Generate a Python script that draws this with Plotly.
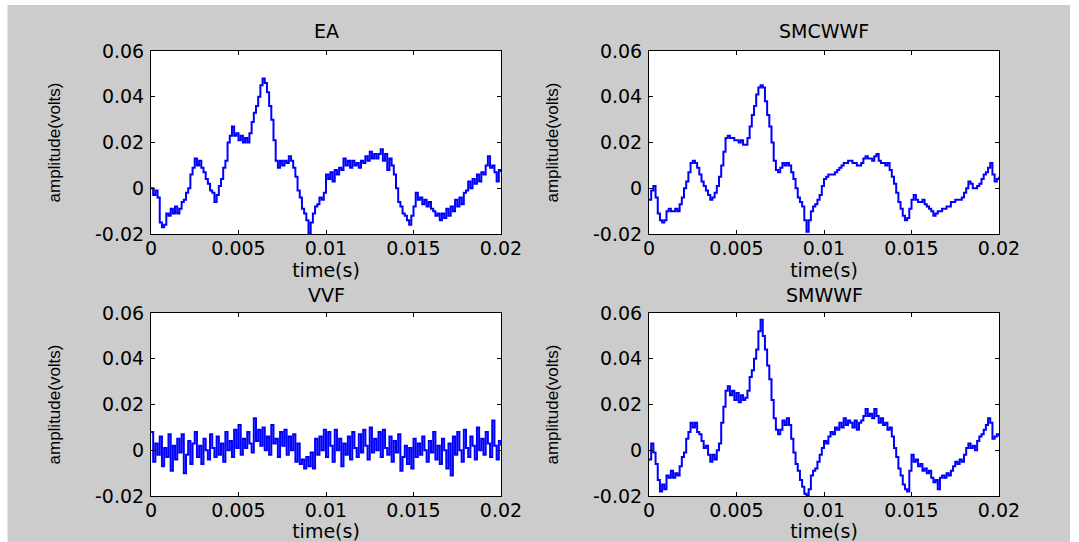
import plotly.graph_objects as go

W, H = 1079, 542

# sampling: 161 samples over 0..0.02 s
DT = 0.000125
N_SAMPLES = 161
time_s = [i * DT for i in range(N_SAMPLES)]

# amplitudes in millivolts
EA_MV = [0, -3, -1, -4, -15, -17, -16, -11, -12, -9, -11, -8, -11, -9, -6, -5, -2, 0, 6, 9,
         13, 10, 12, 9, 7, 4, 2, -1, -2, -6, -3, 1, 4, 9, 12, 20, 23, 27, 23, 24,
         21, 23, 20, 22, 20, 24, 29, 33, 36, 40, 45, 48, 46, 42, 36, 30, 21, 12, 9, 12,
         10, 12, 11, 14, 12, 9, 5, -1, -4, -9, -11, -14, -20, -15, -11, -8, -7, -4, -5, -2,
         6, 4, 7, 3, 8, 6, 9, 8, 13, 10, 12, 9, 12, 10, 11, 9, 12, 11, 14, 12,
         16, 13, 15, 13, 15, 17, 12, 15, 8, 13, 10, 6, 0, -6, -8, -11, -12, -14, -16, -12,
         -8, -2, -5, -4, -7, -5, -8, -6, -9, -10, -12, -11, -14, -11, -13, -9, -12, -8, -10, -5,
         -8, -4, -7, -2, -1, 3, 0, 4, 2, 6, 3, 7, 6, 10, 14, 9, 10, 7, 3, 8, 7]

SMCWWF_MV = [-5, -1, 1, -4, -11, -14, -15, -14, -10, -9, -10, -10, -9, -10, -7, -4, 0, 3, 7, 11,
             12, 11, 9, 6, 3, 1, -1, -3, -5, -4, -2, 1, 5, 10, 16, 22, 23, 22, 22, 21,
             21, 20, 21, 19, 19, 22, 27, 32, 36, 41, 44, 45, 44, 38, 32, 27, 20, 12, 8, 7,
             9, 11, 10, 11, 10, 7, 4, 0, -4, -6, -8, -14, -19, -14, -10, -8, -7, -5, -3, 1,
             4, 5, 6, 6, 6, 7, 8, 9, 10, 11, 11, 12, 12, 11, 11, 10, 10, 11, 13, 14,
             13, 13, 12, 14, 15, 12, 11, 11, 10, 11, 8, 5, 2, -2, -6, -9, -12, -14, -13, -9,
             -5, -3, -5, -6, -6, -5, -7, -8, -9, -10, -12, -11, -10, -10, -9, -9, -8, -8, -6, -6,
             -5, -5, -5, -4, -2, 0, 3, 2, 0, 0, 1, 2, 4, 6, 7, 9, 11, 6, 3, 4, 5]

VVF_MV = [8, -5, 3, -2, 6, -7, 1, -3, 7, -9, 2, -4, 5, -1, 7, -10, -2, 4, -6, 3,
          8, -3, 2, -6, 5, 0, -4, 7, 1, -3, 6, -2, 3, -5, 8, 0, 4, -3, 9, 1,
          11, -2, 5, 1, 8, 3, -1, 14, 4, 9, 2, 10, 0, 6, -2, 11, 3, 5, -3, 8,
          2, 9, -2, 6, 0, 7, -5, 3, -6, -4, -8, -3, -7, -1, -8, 5, -2, 6, 0, 9,
          -3, 8, 2, -5, 9, 0, 5, -7, 3, -2, 6, -4, 8, 1, -3, 7, -1, 9, 2, -4,
          10, -1, 5, 0, 8, -3, 9, 1, -2, 6, -5, 4, -1, 7, -9, -3, 2, -6, 1, -8,
          5, -3, 3, -2, 6, 0, -5, 4, -1, 8, -4, 2, -6, 5, 0, -8, 3, -11, 6, -2,
          8, 0, -5, 9, 1, -3, 6, 2, -4, 10, 0, 5, -2, 8, 3, -3, 13, 2, -4, 4, 2]

SMWWF_MV = [-4, 3, -1, -6, -13, -18, -15, -17, -11, -12, -9, -12, -10, -11, -7, -3, -1, 5, 8, 12,
            10, 12, 8, 7, 4, 1, 2, -2, -5, -2, -4, 0, 3, 12, 19, 26, 28, 24, 26, 22,
            25, 21, 24, 22, 23, 26, 32, 35, 40, 44, 52, 57, 50, 44, 37, 31, 22, 14, 9, 7,
            9, 13, 11, 14, 11, 5, -1, -6, -9, -13, -16, -19, -20, -17, -11, -9, -8, -5, -2, 1,
            4, 3, 6, 8, 7, 10, 9, 12, 10, 14, 11, 13, 12, 10, 13, 9, 12, 13, 15, 18,
            15, 16, 14, 18, 15, 12, 14, 11, 12, 9, 10, 6, 1, -3, -8, -11, -15, -17, -18, -9,
            -2, -5, -4, -7, -6, -9, -8, -10, -9, -12, -14, -13, -17, -12, -11, -12, -10, -11, -9, -7,
            -5, -6, -4, -5, -2, 1, 3, 1, 2, 0, 4, 6, 7, 9, 11, 14, 12, 5, 6, 7, 6]

TITLES = ["EA", "SMCWWF", "VVF", "SMWWF"]
SERIES = [EA_MV, SMCWWF_MV, VVF_MV, SMWWF_MV]
X_TICKS = [0, 0.005, 0.01, 0.015, 0.02]
X_TICK_LABELS = ["0", "0.005", "0.01", "0.015", "0.02"]
Y_TICKS = [-0.02, 0, 0.02, 0.04, 0.06]
Y_TICK_LABELS = ["-0.02", "0", "0.02", "0.04", "0.06"]
X_LABEL = "time(s)"
Y_LABEL = "amplitude(volts)"

# panel boxes in pixels: left, right, top, bottom
BOXES = [(151, 501, 51, 234), (649, 999, 51, 234), (151, 501, 313, 496), (649, 999, 313, 496)]
TITLE_Y = [31, 31, 294.5, 294.5]

HFONT = dict(family="DejaVu Sans", size=19, color="black")
VFONT = dict(family="Liberation Sans", size=17, color="black")

fig = go.Figure()
annotations = []
for k in range(4):
    l, r, t, b = BOXES[k]
    sx = "" if k == 0 else str(k + 1)
    fig.add_trace(go.Scatter(
        x=time_s, y=[v / 1000 for v in SERIES[k]], mode="lines",
        line=dict(color="#0000ff", width=2, shape="hv"), xaxis="x" + sx, yaxis="y" + sx,
        showlegend=False, hoverinfo="skip"))
    axcommon = dict(showline=True, linecolor="black", linewidth=1, mirror="allticks",
                    ticks="inside", ticklen=4, tickcolor="black", showgrid=False,
                    zeroline=False, tickfont=HFONT, fixedrange=True, automargin=False)
    fig.layout["xaxis" + sx] = dict(domain=[l / W, r / W], range=[0, 0.02],
                                    tickvals=X_TICKS, ticktext=X_TICK_LABELS,
                                    anchor="y" + sx, ticklabelstandoff=-3,
                                    title=dict(text=X_LABEL, font=HFONT, standoff=3),
                                    **axcommon)
    fig.layout["yaxis" + sx] = dict(domain=[1 - b / H, 1 - t / H], range=[-0.02, 0.06],
                                    tickvals=Y_TICKS, ticktext=Y_TICK_LABELS,
                                    anchor="x" + sx, ticklabelstandoff=2,
                                    title=dict(text=Y_LABEL, font=VFONT, standoff=30),
                                    **axcommon)
    cx = (l + r) / 2 / W
    annotations.append(dict(text=TITLES[k], x=cx, y=1 - TITLE_Y[k] / H, xref="paper", yref="paper",
                            showarrow=False, xanchor="center", yanchor="middle", font=HFONT))

shapes = [
    dict(type="rect", xref="paper", yref="paper", x0=0, x1=1, y0=1 - 5 / H, y1=1,
         fillcolor="white", line=dict(width=0)),
    dict(type="rect", xref="paper", yref="paper", x0=0, x1=7.5 / W, y0=0, y1=1,
         fillcolor="white", line=dict(width=0)),
    dict(type="rect", xref="paper", yref="paper", x0=1070 / W, x1=1, y0=0, y1=1,
         fillcolor="white", line=dict(width=0)),
]

fig.update_layout(width=W, height=H, autosize=False, margin=dict(l=0, r=0, t=0, b=0, pad=0),
                  paper_bgcolor="#cccccc", plot_bgcolor="white",
                  annotations=annotations, shapes=shapes)

fig.write_html("out.html", config={"displayModeBar": False},
               post_script="document.body.style.margin='0';document.body.style.overflow='hidden';")
